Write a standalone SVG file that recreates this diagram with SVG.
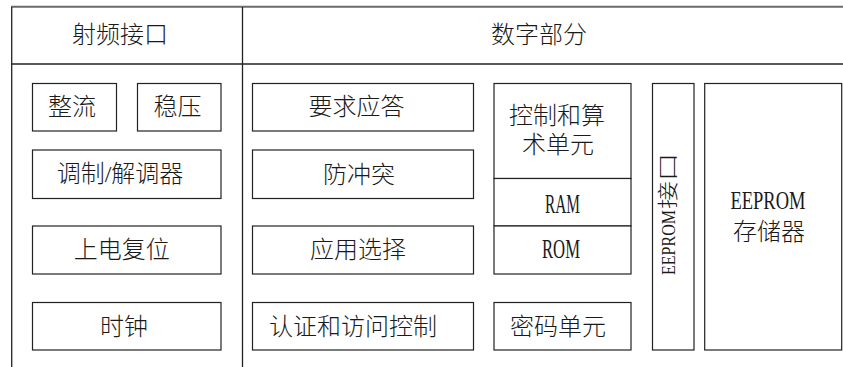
<svg xmlns="http://www.w3.org/2000/svg" width="843" height="367" viewBox="0 0 843 367">
<style>
  .bx{fill:#fff;stroke:#222;stroke-width:1.2}
  .ln{stroke:#222;stroke-width:1.3;fill:none}
  .t{font-family:"Liberation Serif","Noto Sans CJK SC",serif;font-size:24px;font-weight:300;fill:#1a1a1a;text-anchor:middle}
  .l{font-family:"Liberation Serif","Noto Sans CJK SC",serif;font-weight:300;fill:#1a1a1a}
</style>
<rect width="843" height="367" fill="#fff"/>
<g id="frame">
  <line x1="11" y1="6.8" x2="843" y2="6.8" stroke="#6a6a6a" stroke-width="2"/>
  <line class="ln" x1="11.7" y1="7" x2="11.7" y2="367"/>
  <line class="ln" x1="242.5" y1="7" x2="242.5" y2="367"/>
  <line class="ln" x1="11.7" y1="64" x2="843" y2="64"/>
</g>
<g id="hdr-rf"><text class="t" x="120" y="42.5">射频接口</text></g>
<g id="hdr-digital"><text class="t" x="539" y="42.5">数字部分</text></g>

<g id="rectify"><rect class="bx" x="32.5" y="83.5" width="84" height="47.5"/><text class="t" x="72" y="115">整流</text></g>
<g id="regulate"><rect class="bx" x="137.5" y="83.5" width="83.5" height="47.5"/><text class="t" x="177.5" y="115">稳压</text></g>
<g id="modem"><rect class="bx" x="32.5" y="150" width="188.5" height="48.5"/><text class="t" x="120" y="182.3">调制/解调器</text></g>
<g id="por"><rect class="bx" x="32.5" y="226" width="188.5" height="48"/><text class="t" x="121.7" y="258">上电复位</text></g>
<g id="clock"><rect class="bx" x="32.5" y="302.5" width="188.5" height="47.5"/><text class="t" x="124" y="335">时钟</text></g>

<g id="reqans"><rect class="bx" x="252.5" y="83.5" width="221" height="47.5"/><text class="t" x="356.5" y="115">要求应答</text></g>
<g id="anticoll"><rect class="bx" x="252.5" y="150" width="221" height="48.5"/><text class="t" x="359" y="183">防冲突</text></g>
<g id="appsel"><rect class="bx" x="252.5" y="226" width="221" height="48"/><text class="t" x="358" y="258">应用选择</text></g>
<g id="auth"><rect class="bx" x="252.5" y="302.5" width="221" height="47.5"/><text class="t" x="353" y="335">认证和访问控制</text></g>

<g id="alu"><rect class="bx" x="494" y="83.5" width="137" height="95"/><text class="t" x="557" y="124">控制和算</text><text class="t" x="558" y="153">术单元</text></g>
<g id="ram"><rect class="bx" x="494" y="178.5" width="137" height="47.5"/><text class="l" x="545" y="213" font-size="27" textLength="35" lengthAdjust="spacingAndGlyphs">RAM</text></g>
<g id="rom"><rect class="bx" x="494" y="226" width="137" height="48"/><text class="l" x="542" y="258" font-size="27" textLength="38" lengthAdjust="spacingAndGlyphs">ROM</text></g>
<g id="crypto"><rect class="bx" x="494" y="302.5" width="137" height="47.5"/><text class="t" x="558" y="335">密码单元</text></g>

<g id="eeprom-if"><rect class="bx" x="652.5" y="83.5" width="41.5" height="266.5"/>
  <g transform="translate(675,275) rotate(-90)">
    <text class="l" x="0" y="0" font-size="19" textLength="65" lengthAdjust="spacingAndGlyphs">EEPROM</text>
    <text class="l" x="66" y="0" font-size="21" textLength="56" lengthAdjust="spacingAndGlyphs">接口</text>
  </g>
</g>
<g id="eeprom-mem"><rect class="bx" x="704.7" y="83.5" width="137" height="266.5"/>
  <text class="l" x="730.5" y="209" font-size="26" textLength="75" lengthAdjust="spacingAndGlyphs">EEPROM</text>
  <text class="t" x="769" y="240">存储器</text>
</g>
<g id="connectors"></g>
</svg>
